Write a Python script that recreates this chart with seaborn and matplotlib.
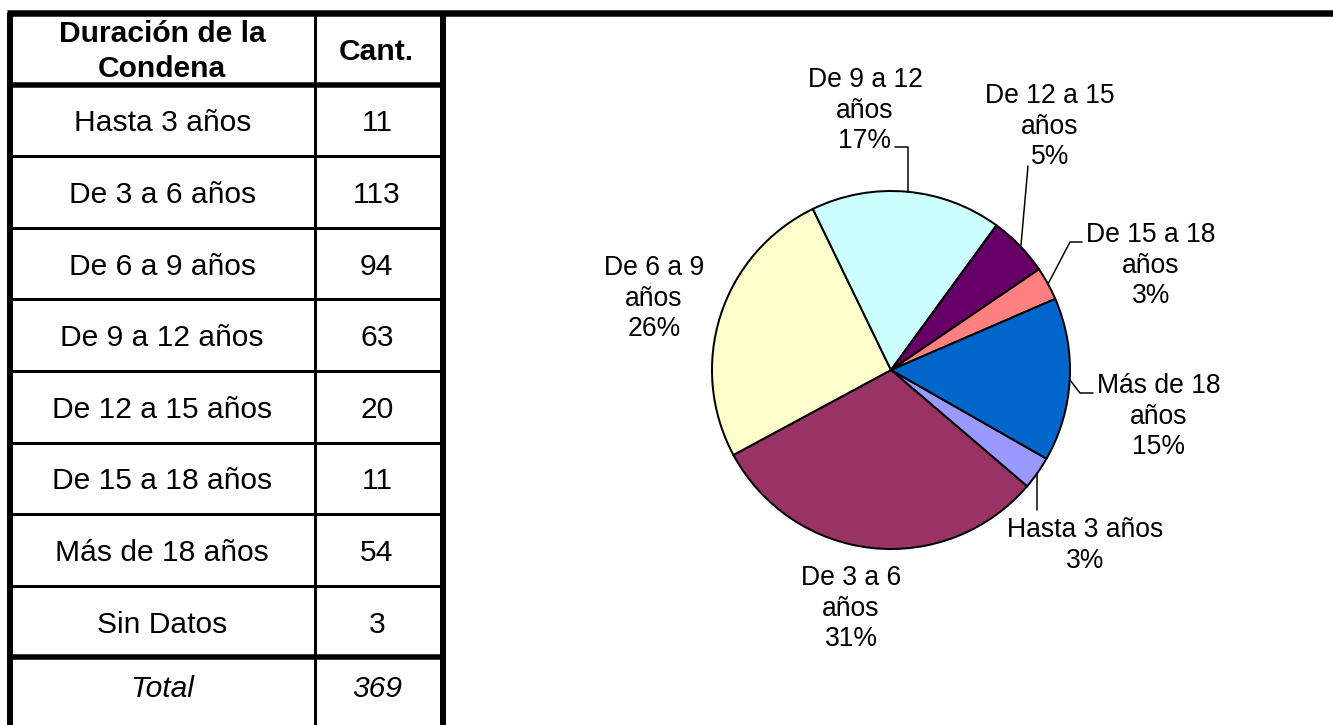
import matplotlib
matplotlib.use("Agg")
import matplotlib.pyplot as plt
import numpy as np
import seaborn as sns

# data
table_rows = ["Hasta 3 años", "De 3 a 6 años", "De 6 a 9 años", "De 9 a 12 años",
              "De 12 a 15 años", "De 15 a 18 años", "Más de 18 años", "Sin Datos"]
table_counts = [11, 113, 94, 63, 20, 11, 54, 3]
total_count = 369

pie_labels = ["Hasta 3 años", "De 3 a 6\naños", "De 6 a 9\naños", "De 9 a 12\naños",
              "De 12 a 15\naños", "De 15 a 18\naños", "Más de 18\naños"]
pie_values = table_counts[:7]
pie_colors = ["#9999FF", "#993366", "#FFFFCC", "#CCFFFF", "#660066", "#FF8080", "#0066CC"]

sns.set_style("white")
plt.rcParams['font.family'] = ['Liberation Sans', 'DejaVu Sans']
plt.rcParams['text.color'] = 'black'

fig = plt.figure(figsize=(13.33, 7.25), dpi=100)
ax = fig.add_axes([0, 0, 1, 1])

# pixel-like coordinates, y downward
W, H = 1333, 725
px = 0.72  # points per pixel at 100 dpi

# ---- table ----
x_left, x_mid, x_right = 10, 314.5, 443
y_top, y_head = 12.5, 84.6
row_h = 71.6
row_lines = [y_head + row_h * i for i in range(9)]

ax.plot([x_left - 3, W], [y_top, y_top], color='black', lw=6.5 * px, solid_capstyle='butt')
ax.plot([x_left, x_left], [y_top, H], color='black', lw=6 * px, solid_capstyle='butt')
ax.plot([x_right, x_right], [y_top, H], color='black', lw=6 * px, solid_capstyle='butt')
ax.plot([x_mid, x_mid], [y_top, H], color='black', lw=3 * px, solid_capstyle='butt')
for i, y in enumerate(row_lines):
    thick = 5.5 if i in (0, 8) else 3
    ax.plot([x_left, x_right], [y, y], color='black', lw=thick * px, solid_capstyle='butt')

c1 = (x_left + x_mid) / 2
c2 = (x_mid + x_right) / 2 - 2
tfs = 30 * px

ax.text(c1, 42, "Duración de la", ha='center', va='baseline', fontsize=tfs, fontweight='bold')
ax.text(c1, 77, "Condena", ha='center', va='baseline', fontsize=tfs, fontweight='bold')
ax.text(c2, 60, "Cant.", ha='center', va='baseline', fontsize=tfs, fontweight='bold')

for i, (name, cnt) in enumerate(zip(table_rows, table_counts)):
    yc = row_lines[i] + row_h / 2 + 11
    ax.text(c1, yc, name, ha='center', va='baseline', fontsize=tfs)
    ax.text(c2, yc, str(cnt), ha='center', va='baseline', fontsize=tfs)

ax.text(c1, 697, "Total", ha='center', va='baseline', fontsize=tfs, style='italic')
ax.text(c2, 697, str(total_count), ha='center', va='baseline', fontsize=tfs, style='italic')

# ---- pie ----
cx, cy, r = 891, 370, 179
ax.pie(pie_values, colors=pie_colors, startangle=29.7, counterclock=True,
       radius=r, center=(cx, cy), frame=True,
       wedgeprops=dict(edgecolor='black', linewidth=2 * px))

total_pie = sum(pie_values)
pct = [round(100 * v / total_pie) for v in pie_values]

# label anchor: (x center, first baseline)
label_pos = [(1085, 537), (851, 585), (654, 275), (865, 87),
             (1050, 103), (1151, 242), (1159, 393)]
lfs = 26.5 * px
for lab, p, (lx, ly) in zip(pie_labels, pct, label_pos):
    lines = lab.split("\n") + [f"{p}%"]
    for k, line in enumerate(lines):
        ax.text(lx, ly + k * 30.5, line, ha='center', va='baseline', fontsize=lfs)

leaders = [
    [(1037, 473), (1037, 510)],
    [(895, 147), (908, 147), (908, 192)],
    [(1028, 166), (1021, 245)],
    [(1082, 242), (1070, 242), (1048, 284)],
    [(1093, 393), (1080, 393), (1070, 380)],
]
for pts in leaders:
    xs, ys = zip(*pts)
    ax.plot(xs, ys, color='black', lw=1.5 * px)

ax.set_xlim(0, W)
ax.set_ylim(H, 0)
ax.set_aspect('auto')
ax.axis('off')

fig.savefig("out.png", dpi=100, facecolor='white')
